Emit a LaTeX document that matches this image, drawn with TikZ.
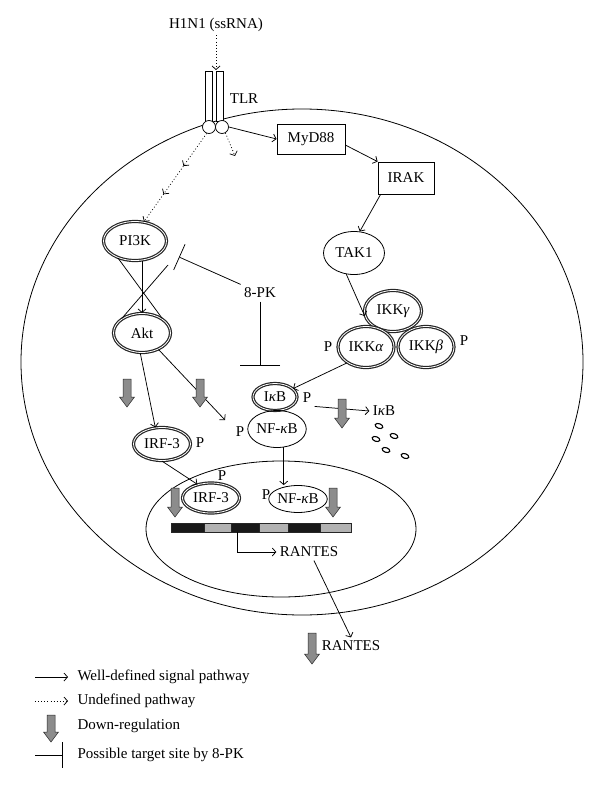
\documentclass[tikz,border=0pt]{standalone}
\usepackage{fontspec}
\setmainfont{Liberation Serif}
\usetikzlibrary{shapes.geometric,arrows.meta,decorations.markings,calc}
\tikzset{
	% Node styles for proteins: plain ellipse, double ring and box
	plain node/.style={ellipse,draw,line width=0.8pt,inner sep=0pt},
	ring node/.style={ellipse,draw=black!85,line width=1.2pt,double=white,double distance=0.8pt,inner sep=0pt},
	box node/.style={rectangle,draw,line width=0.8pt,inner sep=0pt},
	% receptor parts
	tlr bar/.style={rectangle,draw,fill=white,minimum width=7pt,minimum height=50pt,inner sep=0pt,line width=0.7pt},
	tlr foot/.style={circle,draw,fill=white,minimum size=13pt,inner sep=0pt,line width=0.7pt},
	% Connector styles: signal, undefined, inhibition
	sig/.style={line width=0.75pt,-{Straight Barb[length=3.5pt,width=8pt]}},
	undef/.style={sig,dash pattern=on 0.9pt off 2.2pt},
	undef mid/.style={undef,postaction={decorate},decoration={markings,
		mark=at position 0.37 with {\arrow{Straight Barb[length=3.5pt,width=8pt]}},
		mark=at position 0.69 with {\arrow{Straight Barb[length=3.5pt,width=8pt]}}}},
	inhibit/.style={line width=0.75pt,-{Bar[width=#1]}},
	inhibit/.default=28pt,
	down arrow/.style={fill=black!45,draw=black!85,line width=0.5pt},
	legend text/.style={anchor=west}
}
\begin{document}
\begin{tikzpicture}[x=1pt,y=-1pt,font=\fontsize{15}{17}\selectfont]
	% macros for P labels and down-regulation arrows
	\newcommand{\phos}[2]{\node(#1)at(#2){P};}
	\newcommand{\downreg}[2][28]{\draw[down arrow,shift={(#2)}](-4,0)--(4,0)--(4,#1-10)--(7.5,#1-10)--(0,#1)--(-7.5,#1-10)--(-4,#1-10)--cycle;}
	\useasboundingbox (0,0) rectangle (600,789);
	
	% cell and nucleus
	\draw[line width=0.8pt] (302,362) ellipse [x radius=281pt,y radius=253pt];
	\draw[line width=0.8pt] (281,529) ellipse [x radius=135pt,y radius=68pt];
	
	% receptor
	\node(h1n1) at (216,25) {H1N1 (ssRNA)};
	\coordinate (tlrtop) at (216,70);
	\node(barL)[tlr bar] at (209,96) {};
	\node(barR)[tlr bar] at (219.5,96) {};
	\node(tlrL)[tlr foot] at (209,127) {};
	\node(tlrR)[tlr foot] at (222,127) {};
	\node(tlr) at (244,99) {TLR};
	\coordinate (dotend) at (235,156);
	
	% MyD88 branch
	\node(myd88)[box node,minimum width=68pt,minimum height=30pt] at (311,139) {MyD88};
	\node(irak)[box node,minimum width=56pt,minimum height=32pt] at (406,178) {IRAK};
	\node(tak1)[plain node,minimum width=61pt,minimum height=43pt] at (354,253) {TAK1};
	\node(ikkg)[ring node,minimum width=57pt,minimum height=41pt] at (393,311) {IKK{\itshape γ}};
	\node(ikka)[ring node,minimum width=56pt,minimum height=41pt] at (366,347) {IKK{\itshape α}};
	\node(ikkb)[ring node,minimum width=56pt,minimum height=41pt] at (426,347) {IKK{\itshape β}};
	\node(ikb)[ring node,minimum width=44pt,minimum height=27pt] at (275,397) {I{\itshape κ}B};
	\node(nfkb)[plain node,minimum width=55pt,minimum height=37pt] at (277,429) {NF-{\itshape κ}B};
	\node(ikbfree) at (384,411) {I{\itshape κ}B};
	
	% PI3K branch
	\node(pi3k)[ring node,minimum width=63pt,minimum height=39pt] at (135,241) {PI3K};
	\node(akt)[ring node,minimum width=57pt,minimum height=39pt] at (142,333) {Akt};
	\node(irf3c)[ring node,minimum width=57pt,minimum height=33pt] at (162,444) {IRF-3};
	\node(pk8) at (260,293) {8-PK};
	\coordinate (cross) at (168,265);
	\coordinate (pitarget) at (179,257);
	\coordinate (ikbtarget) at (262,366);
	\coordinate (aktend) at (225,420);
	
	% nucleus
	\node(irf3n)[ring node,minimum width=57pt,minimum height=30pt] at (211,498) {IRF-3};
	\node(nnfkb)[plain node,minimum width=56pt,minimum height=27pt] at (298,499) {NF-{\itshape κ}B};
	\foreach \a/\b/\c in {171/204/black!90,204/231/black!30,231/259/black!90,259/288/black!30,288/320/black!90,320/351/black!30}
		\filldraw[fill=\c,draw=black!85,line width=0.5pt] (\a,523) rectangle (\b,532);
	\coordinate (tss) at (237,532);
	\node(rantesN) at (309,552) {RANTES};
	\node(rantesO) at (351,646) {RANTES};
	
	% phosphorylation labels
	\phos{pikka}{328,347}
	\phos{pikkb}{464,341}
	\phos{pikb}{307,398}
	\phos{pnfkb}{240,432}
	\phos{pirfc}{200,443}
	\phos{pirfn}{222,476}
	\phos{pnnfkb}{266,495}
	
	% degraded IkB
	\foreach \bx/\by in {379/426,394/436,376/439,386/450,405/456}
		\draw[line width=1.1pt,rotate around={-20:(\bx,\by)}] (\bx,\by) ellipse [x radius=4pt,y radius=2.3pt];
	
	% connectors
	\draw[undef] (h1n1.south) -- (tlrtop);
	\draw[undef mid] (tlrL.-110) -- (pi3k.65);
	\draw[undef] (tlrR.-60) -- (dotend);
	\draw[sig] (tlrR.east) -- (myd88.west);
	\draw[sig] (myd88.-10) -- (irak.north west);
	\draw[sig] ([xshift=3pt]irak.south west) -- (tak1.75);
	\draw[sig] (tak1.250) -- (ikkg.190);
	\draw[sig] (ikka.220) -- (ikb.25);
	\draw[sig] (nfkb.-70) -- (nfkb.-70 |- nnfkb.north);
	\draw[sig] (akt.north |- pi3k.south) -- (akt.north);
	\draw[line width=0.75pt] (pi3k.225) -- (akt.35);
	\draw[line width=0.75pt] (cross) -- (akt.145);
	\draw[inhibit] (pk8.north west) -- (pitarget);
	\draw[inhibit=40pt] (pk8.south) -- (pk8.south |- ikbtarget);
	\draw[sig] (akt.-95) -- (irf3c.112);
	\draw[sig] (akt.-45) -- (aktend);
	\draw[sig] (irf3c.south) -- (irf3n.135);
	\draw[sig] (tss) |- (rantesN.west);
	\draw[sig] (rantesN.-60) -- (rantesO.north);
	\draw[sig] (pikb.south east) -- (ikbfree.west);
	
	% down-regulation
	\downreg{127,379}
	\downreg{200,379}
	\downreg[29]{342,399}
	\downreg[29]{175,488}
	\downreg[29]{333,488}
	\downreg[31]{312,633}
	
	% legend
	\coordinate (lg1a) at (35,677);
	\coordinate (lg1b) at (68,677);
	\coordinate (lg2a) at (35,701);
	\coordinate (lg2b) at (68,701);
	\coordinate (lg4a) at (35,755);
	\coordinate (lg4b) at (63,755);
	\draw[sig] (lg1a) -- (lg1b);
	\draw[undef] (lg2a) -- (lg2b);
	\downreg[27]{51,715}
	\draw[inhibit=26pt] (lg4a) -- (lg4b);
	\node(lg1)[legend text] at (74,677) {Well-defined signal pathway};
	\node(lg2)[legend text] at (74,701) {Undefined pathway};
	\node(lg3)[legend text] at (74,726) {Down-regulation};
	\node(lg4)[legend text] at (74,755) {Possible target site by 8-PK};
\end{tikzpicture}
\end{document}
